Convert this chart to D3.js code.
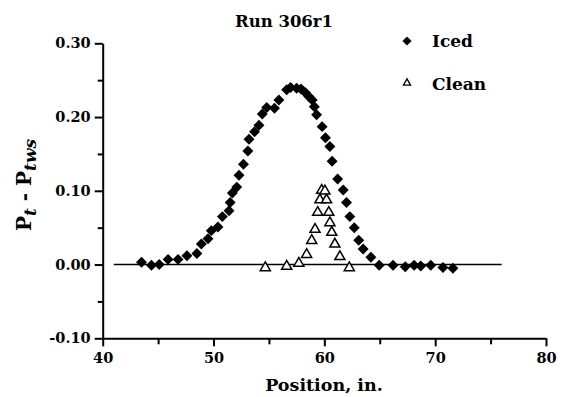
<!DOCTYPE html>
<html>
<head>
<meta charset="utf-8">
<script src="https://cdn.jsdelivr.net/npm/d3@7"></script>
<style>
  body { margin: 0; background: #fff; }
</style>
</head>
<body>
<div id="chart"></div>
<script>
// Iced run values
var icedX = [43.5, 44.4, 45.1, 45.9, 46.8, 47.6, 48.5, 48.9, 49.5, 49.8, 50.4, 50.8, 51.4, 51.5,
  51.7, 52.1, 52.3, 52.7, 53.1, 53.2, 53.7, 54.1, 54.4, 54.8, 55.5, 55.9, 56.6, 56.95, 57.5,
  57.9, 58.3, 58.6, 58.9, 59.1, 59.3, 59.8, 60.1, 60.5, 60.7, 61.2, 61.7, 62.0, 62.3, 62.7,
  63.1, 63.5, 64.2, 64.95, 66.2, 67.3, 68.1, 68.7, 69.6, 70.7, 71.6];
var icedY = [0.003, -0.001, 0.000, 0.007, 0.007, 0.012, 0.015, 0.028, 0.035, 0.046, 0.051, 0.065, 0.073, 0.084,
  0.097, 0.105, 0.121, 0.136, 0.154, 0.170, 0.180, 0.189, 0.204, 0.213, 0.212, 0.223, 0.237, 0.240, 0.239,
  0.238, 0.233, 0.228, 0.223, 0.214, 0.203, 0.187, 0.172, 0.160, 0.140, 0.116, 0.101, 0.084, 0.065, 0.050,
  0.033, 0.021, 0.010, -0.001, -0.001, -0.003, -0.001, -0.002, -0.001, -0.004, -0.005];

// Clean run values
var cleanX = [54.67, 56.6, 57.7, 58.4, 58.86, 59.16, 59.4, 59.6, 59.76, 60.05, 60.2, 60.4, 60.5, 60.67, 60.95, 61.4, 62.25];
var cleanY = [-0.003, -0.001, 0.003, 0.015, 0.034, 0.049, 0.072, 0.089, 0.102, 0.101, 0.089, 0.072, 0.058, 0.045, 0.029, 0.012, -0.003];

var xTicks = [40, 50, 60, 70, 80];
var xMinor = [45, 55, 65, 75];
var yTicks = [-0.1, 0.0, 0.1, 0.2, 0.3];
var yMinor = [-0.05, 0.05, 0.15, 0.25];
var zeroLine = [41, 76];

var width = 570,
  height = 397;
var margin = { top: 43.3, right: 24, bottom: 58.7, left: 102.7 };
var font = "DejaVu Serif";

var svg = d3
  .select("#chart")
  .append("svg")
  .attr("width", width)
  .attr("height", height)
  .attr("font-family", font)
  .attr("font-weight", "bold");

var x = d3.scaleLinear().domain([40, 80]).range([margin.left, width - margin.right]);
var y = d3.scaleLinear().domain([-0.1, 0.3]).range([height - margin.bottom, margin.top]);

// zero reference line
svg
  .append("line")
  .attr("x1", x(zeroLine[0]))
  .attr("x2", x(zeroLine[1]))
  .attr("y1", y(0))
  .attr("y2", y(0))
  .attr("stroke", "#000")
  .attr("stroke-width", 1.6);

// axes
var fmtY = d3.format(".2f");
var xAxis = svg
  .append("g")
  .attr("transform", "translate(0," + y(-0.1) + ")")
  .call(d3.axisBottom(x).tickValues(xTicks).tickFormat(d3.format("d")).tickSize(8).tickSizeOuter(0).tickPadding(3));
svg
  .append("g")
  .attr("transform", "translate(0," + y(-0.1) + ")")
  .call(d3.axisBottom(x).tickValues(xMinor).tickFormat("").tickSize(6).tickSizeOuter(0))
  .select(".domain")
  .remove();

var yAxis = svg
  .append("g")
  .attr("transform", "translate(" + x(40) + ",0)")
  .call(
    d3
      .axisLeft(y)
      .tickValues(yTicks)
      .tickFormat(function (d) {
        return fmtY(d).replace("\u2212", "-");
      })
      .tickSize(8)
      .tickSizeOuter(0)
      .tickPadding(4)
  );
svg
  .append("g")
  .attr("transform", "translate(" + x(40) + ",0)")
  .call(d3.axisLeft(y).tickValues(yMinor).tickFormat("").tickSize(5).tickSizeOuter(0))
  .select(".domain")
  .remove();

svg.selectAll("g").attr("font-family", font);
svg.selectAll(".domain").attr("stroke-width", 2);
svg.selectAll(".tick line").attr("stroke-width", 2);
svg
  .selectAll(".tick text")
  .attr("font-family", font)
  .attr("font-weight", "bold")
  .attr("font-size", 14.5)
  .attr("fill", "#000");
xAxis.selectAll(".tick text").attr("dy", "0.95em");

// markers
var diamond = d3.symbol().type(d3.symbolSquare).size(60);
var triangle = d3.symbol().type(d3.symbolTriangle).size(44);

svg
  .selectAll(".iced")
  .data(icedX)
  .enter()
  .append("path")
  .attr("class", "iced")
  .attr("d", diamond)
  .attr("transform", function (d, i) {
    return "translate(" + x(d) + "," + y(icedY[i]) + ") rotate(45)";
  })
  .attr("fill", "#000");

svg
  .selectAll(".clean")
  .data(cleanX)
  .enter()
  .append("path")
  .attr("class", "clean")
  .attr("d", triangle)
  .attr("transform", function (d, i) {
    return "translate(" + x(d) + "," + (y(cleanY[i]) + 1) + ")";
  })
  .attr("fill", "#fff")
  .attr("stroke", "#000")
  .attr("stroke-width", 1.5);

// title
svg
  .append("text")
  .attr("x", 284)
  .attr("y", 27)
  .attr("text-anchor", "middle")
  .attr("font-family", font)
  .attr("font-size", 16.5)
  .text("Run 306r1");

// legend
svg
  .append("path")
  .attr("d", d3.symbol().type(d3.symbolSquare).size(42))
  .attr("transform", "translate(407,41) rotate(45)")
  .attr("fill", "#000");
svg.append("text").attr("x", 432).attr("y", 47).attr("font-family", font).attr("font-size", 17).text("Iced");
svg
  .append("path")
  .attr("d", d3.symbol().type(d3.symbolTriangle).size(22))
  .attr("transform", "translate(407,83)")
  .attr("fill", "#fff")
  .attr("stroke", "#000")
  .attr("stroke-width", 1.3);
svg.append("text").attr("x", 432).attr("y", 90).attr("font-family", font).attr("font-size", 17).text("Clean");

// axis titles
svg
  .append("text")
  .attr("x", 324)
  .attr("y", 391)
  .attr("text-anchor", "middle")
  .attr("font-family", font)
  .attr("font-size", 17.5)
  .text("Position, in.");

var yLabel = svg
  .append("text")
  .attr("transform", "translate(31,185) rotate(-90)")
  .attr("text-anchor", "middle")
  .attr("font-family", font)
  .attr("font-size", 20);
yLabel.append("tspan").text("P");
yLabel.append("tspan").attr("font-style", "italic").attr("font-size", 17).attr("dy", 5).text("t");
yLabel.append("tspan").attr("dy", -5).text(" - P");
yLabel.append("tspan").attr("font-style", "italic").attr("font-size", 17).attr("dy", 5).text("tws");
</script>
</body>
</html>
